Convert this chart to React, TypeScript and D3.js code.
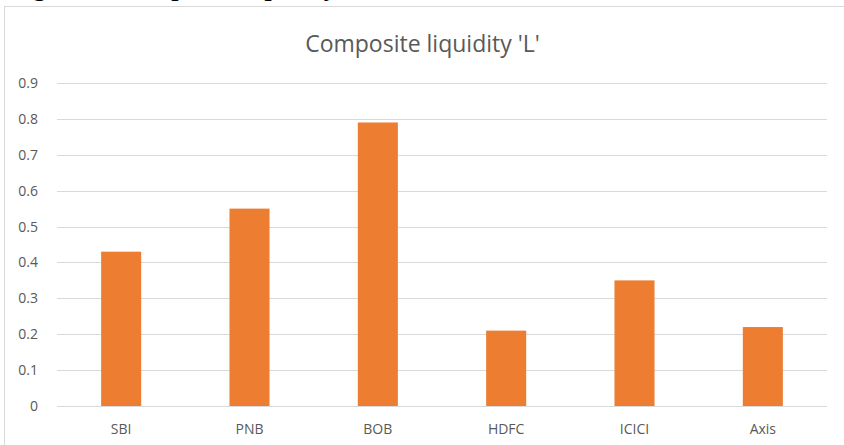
import React from "react";
import * as d3 from "d3";

const categories: string[] = ["SBI", "PNB", "BOB", "HDFC", "ICICI", "Axis"];
const values: number[] = [0.43, 0.55, 0.79, 0.21, 0.35, 0.22];
const yTicks: number[] = [0, 0.1, 0.2, 0.3, 0.4, 0.5, 0.6, 0.7, 0.8, 0.9];
const title = "Composite liquidity 'L'";
const caption = "Figure 4: Composite liquidity";

const W = 844;
const H = 445;

export default function App() {
  const x = d3
    .scaleBand<string>()
    .domain(categories)
    .range([57, 827])
    .paddingInner(0.688)
    .paddingOuter(0.344);
  const y = d3.scaleLinear().domain([0, 0.9]).range([406, 83]);
  const font = "Open Sans, Liberation Sans, sans-serif";
  const fmt = (v: number) => (v === 0 ? "0" : d3.format(".1f")(v));

  return (
    <svg
      width={W}
      height={H}
      style={{ position: "absolute", left: 0, top: 0, display: "block" }}
    >
      <rect x={0} y={0} width={W} height={H} fill="#fff" />
      <text
        x={10}
        y={-4}
        fontFamily="Liberation Serif, serif"
        fontWeight="bold"
        fontSize={26}
        fill="#000"
      >
        {caption}
      </text>
      <rect
        x={4.5}
        y={6.5}
        width={W + 10}
        height={H + 10}
        fill="none"
        stroke="#D9D9D9"
        strokeWidth={1}
      />
      <text
        x={(305 + 540) / 2}
        y={52}
        textAnchor="middle"
        fontFamily={font}
        fontSize={23}
        fill="#595959"
      >
        {title}
      </text>
      {yTicks.map((t) => (
        <g key={t}>
          <line
            x1={57}
            x2={827}
            y1={Math.round(y(t)) + 0.5}
            y2={Math.round(y(t)) + 0.5}
            stroke="#D9D9D9"
            strokeWidth={1}
          />
          <text
            x={38}
            y={y(t) + 5}
            textAnchor="end"
            fontFamily={font}
            fontSize={14}
            fill="#595959"
          >
            {fmt(t)}
          </text>
        </g>
      ))}
      {categories.map((c, i) => (
        <g key={c}>
          <rect
            x={x(c)!}
            y={y(values[i])}
            width={x.bandwidth()}
            height={y(0) - y(values[i])}
            fill="#ED7D31"
          />
          <text
            x={x(c)! + x.bandwidth() / 2}
            y={434}
            textAnchor="middle"
            fontFamily={font}
            fontSize={14}
            fill="#595959"
          >
            {c}
          </text>
        </g>
      ))}
    </svg>
  );
}
